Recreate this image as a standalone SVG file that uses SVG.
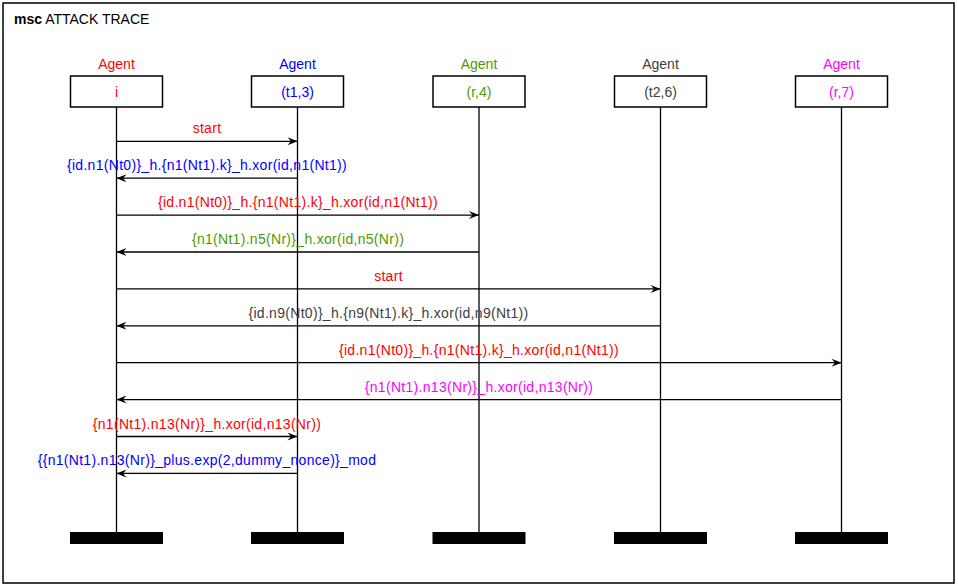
<svg xmlns="http://www.w3.org/2000/svg" width="958" height="587" viewBox="0 0 958 587">
<defs>
<style>
text{font-family:"Liberation Sans",Arial,sans-serif;font-size:14px;text-anchor:middle}
#connectors text{letter-spacing:0.3px}
.box{fill:#fff;stroke:#000;stroke-width:1.5}
.life{stroke:#000;stroke-width:1.3}
.end{fill:#000}
.msg{stroke:#000;stroke-width:1.3;fill:none;marker-end:url(#ah)}
.red{fill:#ff0000}.blue{fill:#0000ff}.green{fill:#4c9a00}.gray{fill:#404040}.mag{fill:#ff00ff}
</style>
<marker id="ah" markerUnits="userSpaceOnUse" markerWidth="14" markerHeight="10" viewBox="-11 -5 12 10" refX="0" refY="0" orient="auto">
<path d="M0,0 L-10,-4 L-6.5,0 L-10,4 Z" fill="#000"/>
</marker>
</defs>
<rect width="958" height="587" fill="#fff"/>
<rect x="3" y="3" width="951" height="580" fill="none" stroke="#000" stroke-width="1.5"/>
<text x="14" y="24" style="text-anchor:start"><tspan font-weight="bold">msc</tspan> ATTACK TRACE</text>

<g id="node-i">
<text x="116.5" y="69" class="red">Agent</text>
<rect class="box" x="70.5" y="76" width="92" height="31"/>
<text x="116.5" y="97" class="red">i</text>
<line class="life" x1="116.5" y1="107" x2="116.5" y2="532"/>
<rect class="end" x="70" y="532" width="93" height="12"/>
</g>
<g id="node-t1">
<text x="297.5" y="69" class="blue">Agent</text>
<rect class="box" x="251.5" y="76" width="92" height="31"/>
<text x="297.5" y="97" class="blue">(t1,3)</text>
<line class="life" x1="297.5" y1="107" x2="297.5" y2="532"/>
<rect class="end" x="251" y="532" width="93" height="12"/>
</g>
<g id="node-r4">
<text x="479" y="69" class="green">Agent</text>
<rect class="box" x="433" y="76" width="92" height="31"/>
<text x="479" y="97" class="green">(r,4)</text>
<line class="life" x1="479" y1="107" x2="479" y2="532"/>
<rect class="end" x="432.5" y="532" width="93" height="12"/>
</g>
<g id="node-t2">
<text x="660.5" y="69" class="gray">Agent</text>
<rect class="box" x="614.5" y="76" width="92" height="31"/>
<text x="660.5" y="97" class="gray">(t2,6)</text>
<line class="life" x1="660.5" y1="107" x2="660.5" y2="532"/>
<rect class="end" x="614" y="532" width="93" height="12"/>
</g>
<g id="node-r7">
<text x="841.5" y="69" class="mag">Agent</text>
<rect class="box" x="795.5" y="76" width="92" height="31"/>
<text x="841.5" y="97" class="mag">(r,7)</text>
<line class="life" x1="841.5" y1="107" x2="841.5" y2="532"/>
<rect class="end" x="795" y="532" width="93" height="12"/>
</g>

<g id="connectors">
<line class="msg" x1="116.5" y1="141.3" x2="297.5" y2="141.3"/>
<text x="207" y="133.3" class="red">start</text>
<line class="msg" x1="297.5" y1="178.2" x2="116.5" y2="178.2"/>
<text x="207" y="170.2" class="blue">{id.n1(Nt0)}_h.{n1(Nt1).k}_h.xor(id,n1(Nt1))</text>
<line class="msg" x1="116.5" y1="215.1" x2="479" y2="215.1"/>
<text x="298" y="207.1" class="red">{id.n1(Nt0)}_h.{n1(Nt1).k}_h.xor(id,n1(Nt1))</text>
<line class="msg" x1="479" y1="252" x2="116.5" y2="252"/>
<text x="298" y="244" class="green">{n1(Nt1).n5(Nr)}_h.xor(id,n5(Nr))</text>
<line class="msg" x1="116.5" y1="288.9" x2="660.5" y2="288.9"/>
<text x="388.5" y="280.9" class="red">start</text>
<line class="msg" x1="660.5" y1="325.8" x2="116.5" y2="325.8"/>
<text x="388.5" y="317.8" class="gray">{id.n9(Nt0)}_h.{n9(Nt1).k}_h.xor(id,n9(Nt1))</text>
<line class="msg" x1="116.5" y1="362.7" x2="841.5" y2="362.7"/>
<text x="479" y="354.7" class="red">{id.n1(Nt0)}_h.{n1(Nt1).k}_h.xor(id,n1(Nt1))</text>
<line class="msg" x1="841.5" y1="399.6" x2="116.5" y2="399.6"/>
<text x="479" y="391.6" class="mag">{n1(Nt1).n13(Nr)}_h.xor(id,n13(Nr))</text>
<line class="msg" x1="116.5" y1="436.5" x2="297.5" y2="436.5"/>
<text x="207" y="428.5" class="red">{n1(Nt1).n13(Nr)}_h.xor(id,n13(Nr))</text>
<line class="msg" x1="297.5" y1="473.4" x2="116.5" y2="473.4"/>
<text x="207" y="465.4" class="blue">{{n1(Nt1).n13(Nr)}_plus.exp(2,dummy_nonce)}_mod</text>
</g>
</svg>
